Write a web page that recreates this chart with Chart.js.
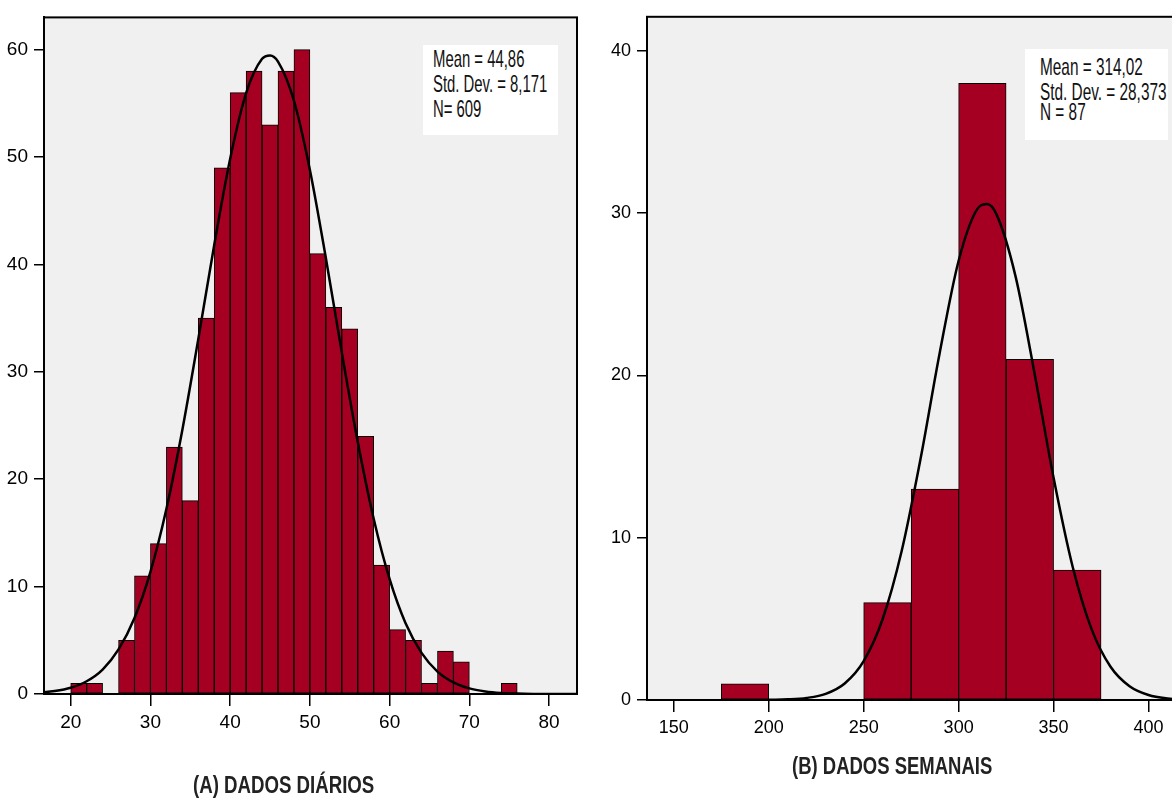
<!DOCTYPE html>
<html>
<head>
<meta charset="utf-8">
<script src="https://cdn.jsdelivr.net/npm/chart.js@4.4.1/dist/chart.umd.min.js"></script>
<style>
  html, body { margin: 0; padding: 0; background: #fff; overflow: hidden; }
  #wrap { position: relative; width: 1172px; height: 804px; overflow: hidden; }
  canvas { position: absolute; top: 0; }
  .box { position: absolute; background: #fff; }
  .txt {
    position: absolute; white-space: nowrap; line-height: 1;
    font-family: 'Liberation Sans', Arial, sans-serif; font-size: 24px; color: #111;
    transform-origin: 0 0;
  }
  .title { font-weight: bold; color: #222; }
</style>
</head>
<body>
<div id="wrap">
  <canvas id="histA" width="600" height="804" style="left:0;width:600px;height:804px"></canvas>
  <canvas id="histB" width="600" height="804" style="left:600px;width:600px;height:804px"></canvas>

  <div class="box" style="left:423px;top:45px;width:135px;height:90px"></div>
  <div class="txt" style="left:433px;top:47px;transform:scaleX(0.62)">Mean = 44,86</div>
  <div class="txt" style="left:433px;top:72px;transform:scaleX(0.62)">Std. Dev. = 8,171</div>
  <div class="txt" style="left:433px;top:97px;transform:scaleX(0.62)">N= 609</div>

  <div class="box" style="left:1025px;top:49px;width:143px;height:91px"></div>
  <div class="txt" style="left:1040px;top:55px;transform:scaleX(0.64)">Mean = 314,02</div>
  <div class="txt" style="left:1040px;top:80px;transform:scaleX(0.64)">Std. Dev. = 28,373</div>
  <div class="txt" style="left:1040px;top:100px;transform:scaleX(0.64)">N = 87</div>

  <div class="txt title" style="left:193px;top:773px;transform:scaleX(0.777)">(A) DADOS DIÁRIOS</div>
  <div class="txt title" style="left:792px;top:754px;transform:scaleX(0.77)">(B) DADOS SEMANAIS</div>
</div>
<script>
// (A) daily data: bins of width 2, centres and counts
var binsA = [21, 23, 27, 29, 31, 33, 35, 37, 39, 41, 43, 45, 47, 49, 51, 53, 55, 57, 59, 61, 63, 65, 67, 69, 75];
var countsA = [1, 1, 5, 11, 14, 23, 18, 35, 49, 56, 58, 53, 58, 60, 41, 36, 34, 24, 12, 6, 5, 1, 4, 3, 1];
// normal curve
var curveXA = [16, 18, 20, 22, 24, 26, 28, 30, 32, 34, 36, 38, 40, 42, 44, 45, 46, 48, 50, 52, 54, 56, 58, 60, 62, 64, 66, 68, 70, 72, 74, 76, 78, 80, 82, 84];
var curveYA = [0.12, 0.27, 0.58, 1.19, 2.28, 4.15, 7.08, 11.38, 17.23, 24.59, 33.04, 41.81, 49.83, 55.94, 59.14, 59.46, 58.89, 55.24, 48.8, 40.6, 31.81, 23.48, 16.32, 10.69, 6.59, 3.83, 2.09, 1.08, 0.52, 0.24, 0.1, 0.04, 0.01, 0, 0, 0];
var xTicksA = [20, 30, 40, 50, 60, 70, 80];
var yTicksA = [0, 10, 20, 30, 40, 50, 60];

// (B) weekly data: bins of width 25
var binsB = [187.5, 262.5, 287.5, 312.5, 337.5, 362.5];
var countsB = [1, 6, 13, 38, 21, 8];
var curveXB = [200, 210, 220, 230, 240, 250, 260, 270, 280, 290, 300, 310, 315, 320, 330, 340, 350, 360, 370, 380, 390, 400, 410, 420];
var curveYB = [0.01, 0.04, 0.13, 0.38, 1.02, 2.4, 4.99, 9.18, 14.9, 21.37, 27.07, 30.28, 30.56, 29.91, 26.09, 20.11, 13.69, 8.23, 4.37, 2.05, 0.85, 0.31, 0.1, 0.03];
var xTicksB = [150, 200, 250, 300, 350, 400];
var yTicksB = [0, 10, 20, 30, 40];

var plotFrame = {
    id: 'plotFrame',
    beforeDraw: function (chart) {
        var a = chart.chartArea, ctx = chart.ctx;
        ctx.save();
        ctx.fillStyle = '#F0F0F0';
        ctx.fillRect(a.left, a.top, a.right - a.left, a.bottom - a.top);
        ctx.restore();
    },
    afterDraw: function (chart) {
        var a = chart.chartArea, ctx = chart.ctx;
        ctx.save();
        ctx.strokeStyle = '#000';
        ctx.lineWidth = 2;
        ctx.strokeRect(a.left, a.top, a.right - a.left, a.bottom - a.top);
        ctx.restore();
    }
};

function toPoints(xs, ys) {
    return xs.map(function (x, i) { return { x: x, y: ys[i] }; });
}

function drawHistogram(id, cfg) {
    var ctx = document.getElementById(id).getContext('2d');
    var tickFont = { family: "'Liberation Sans Narrow', 'Liberation Sans', Arial, sans-serif", size: cfg.fontSize };

    var data = {
        datasets: [
            {
                type: 'line',
                data: toPoints(cfg.curveX, cfg.curveY),
                borderColor: '#000',
                borderWidth: 2.5,
                pointRadius: 0,
                cubicInterpolationMode: 'monotone',
                order: 0,
            },
            {
                type: 'bar',
                data: toPoints(cfg.bins, cfg.counts),
                backgroundColor: '#A50021',
                borderColor: '#000',
                borderWidth: 1,
                borderSkipped: false,
                barPercentage: 1,
                categoryPercentage: 1,
                order: 1,
            },
        ],
    };

    var options = {
        responsive: false,
        animation: false,
        layout: { padding: cfg.padding },
        plugins: { legend: { display: false }, tooltip: { enabled: false } },
        scales: {
            x: {
                type: 'linear',
                min: cfg.xMin,
                max: cfg.xMax,
                offset: false,
                grid: { display: true, offset: false, drawOnChartArea: false, tickLength: 12, color: '#000', lineWidth: 1.5 },
                border: { display: true, color: '#000', width: 2 },
                ticks: { color: '#000', font: tickFont, padding: 5, maxRotation: 0 },
                afterBuildTicks: function (s) { s.ticks = cfg.xTicks.map(function (v) { return { value: v }; }); },
                afterFit: function (s) { s.height = cfg.xHeight; },
            },
            y: {
                type: 'linear',
                min: 0,
                max: cfg.yMax,
                grid: { display: true, drawOnChartArea: false, tickLength: 10, color: '#000', lineWidth: 1.5 },
                border: { display: true, color: '#000', width: 2 },
                ticks: { color: '#000', font: tickFont, padding: 6 },
                afterBuildTicks: function (s) { s.ticks = cfg.yTicks.map(function (v) { return { value: v }; }); },
                afterFit: function (s) { s.width = cfg.yWidth; },
            },
        },
    };

    return new Chart(ctx, { type: 'bar', data: data, options: options, plugins: [plotFrame] });
}

drawHistogram('histA', {
    bins: binsA, counts: countsA, curveX: curveXA, curveY: curveYA,
    xTicks: xTicksA, yTicks: yTicksA,
    xMin: 16.65, xMax: 83.5, yMax: 63,
    padding: { left: 0, right: 23, top: 7, bottom: 0 },
    yWidth: 44, xHeight: 110, fontSize: 19,
});

drawHistogram('histB', {
    bins: binsB, counts: countsB, curveX: curveXB, curveY: curveYB,
    xTicks: xTicksB, yTicks: yTicksB,
    xMin: 135.9, xMax: 419.2, yMax: 42.1,
    padding: { left: 0, right: 15, top: 13, bottom: 0 },
    yWidth: 47, xHeight: 104, fontSize: 18,
});
</script>
</body>
</html>
